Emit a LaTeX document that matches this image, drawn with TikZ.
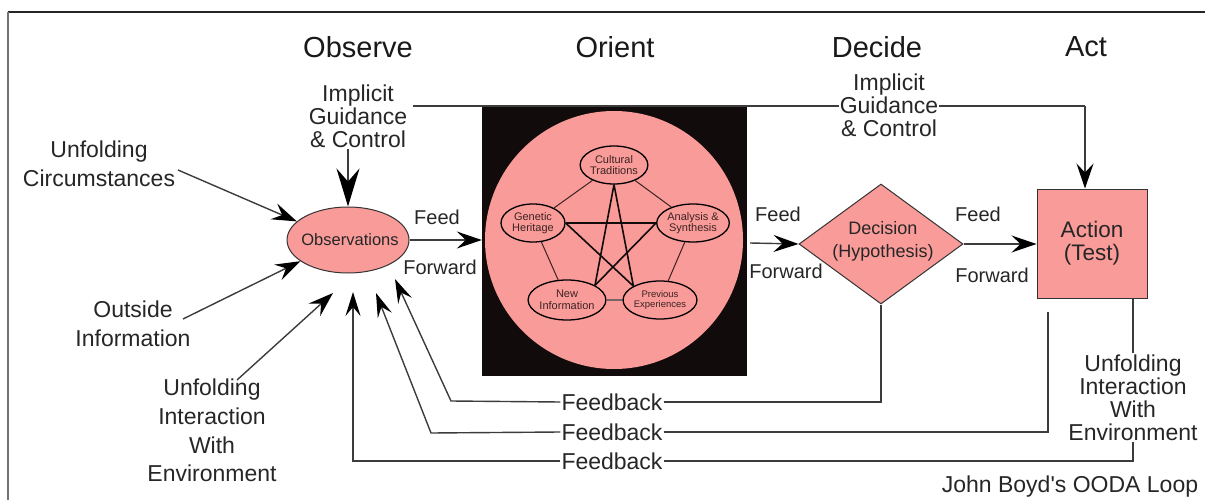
\documentclass[tikz,border=0pt]{standalone}
\usepackage{fontspec}
\setmainfont{Liberation Sans}
\newfontfamily\plainsans{Liberation Sans}
\usetikzlibrary{shapes.geometric,arrows.meta,calc}
\definecolor{salmon}{RGB}{249,155,152}
\definecolor{boxblack}{RGB}{18,11,11}
\definecolor{linegray}{RGB}{60,60,60}
\definecolor{innertext}{RGB}{60,35,35}
\begin{document}
\begin{tikzpicture}[x=1pt,y=-1pt,
  txt/.style={font=\fontsize{23}{23}\selectfont,align=center,inner sep=1pt,text=black!85},
  txtw/.style={txt,font=\fontsize{23}{28.8}\selectfont},
  head/.style={font=\fontsize{29}{29}\selectfont,inner sep=0pt,text=black!90},
  ff/.style={font=\fontsize{20}{20}\selectfont,inner sep=0pt,text=black!85},
  conn/.style={draw=linegray,line width=1.4pt},
  bigarrow/.style={conn,-{Stealth[length=25pt,width=17pt,inset=9pt,black]}},
  hugearrow/.style={conn,-{Stealth[length=38pt,width=23pt,inset=13pt,black]}},
  smallarrow/.style={conn,-{Stealth[length=24pt,width=15pt,inset=9pt,black]}},
  pinkfill/.style={fill=salmon,draw=black!80,line width=1pt},
  small/.style={ellipse,fill=salmon,draw=black,line width=1.3pt,minimum width=64pt,minimum height=38pt,inner sep=0pt,align=center,text=innertext,font=\fontsize{11}{11.5}\selectfont},
  pent/.style={draw=innertext,line width=1pt},
  star/.style={draw=boxblack,line width=1.6pt}
]
\useasboundingbox (0,0) rectangle (1205,500);
% frame
\draw[black!85,line width=1.6pt] (8,12) -- (1205,12);
\draw[black!55,line width=1.6pt] (8,12) -- (8,500);

% headings
\node[head] (hobs) at (358,47) {Observe};
\node[head] (hori) at (615,47) {Orient};
\node[head] (hdec) at (877,47) {Decide};
\node[head] (hact) at (1086,47) {Act};

% top guidance line (drawn first, behind)
\coordinate (igL) at (413,106);
\coordinate (igC) at (1085,106);

% Orient box
\node[fill=boxblack,minimum width=265pt,minimum height=271pt,inner sep=0pt] (orbox) at (614.5,240.5) {};
\draw[conn] (igL) -- (igC);
\node[circle,fill=salmon,minimum size=258pt,inner sep=0pt] (orc) at (614,240) {};

% inner ellipses
\node[small,minimum width=60pt] (ct) at (614,165) {Cultural\\Traditions};
\node[small] (gh) at (533,223) {Genetic\\Heritage};
\node[small] (as) at (693,223) {Analysis \&\\Synthesis};
\node[small,minimum height=40pt] (ni) at (567,300) {New\\Information};
\node[small,font=\fontsize{9.5}{10.5}\selectfont] (pe) at (660,300) {Previous\\Experiences};
% pentagon and star edges
\draw[pent] (ct) -- (gh);
\draw[pent] (ct) -- (as);
\draw[pent] (gh) -- (ni);
\draw[pent] (as) -- (pe);
\draw[pent,line width=1.6pt,draw=innertext!70] (ni) -- (pe);
\draw[star] (ct.south) -- (ni.north east);
\draw[star] (ct.south) -- (pe.north west);
\draw[star] (gh.east) -- (as.west);
\draw[star] (gh.east) -- (pe.north west);
\draw[star] (as.west) -- (ni.north east);

% Observations
\node[ellipse,pinkfill,minimum width=122pt,minimum height=66pt,inner sep=0pt] (obs) at (348,240) {};
\node[font=\fontsize{16.5}{16.5}\selectfont,text=black!85,inner sep=0pt] (obst) at (350,240) {Observations};

% Decision diamond
\node[diamond,pinkfill,minimum width=164pt,minimum height=120pt,inner sep=0pt] (dec) at (881,244) {};
\node[align=center,font=\fontsize{18}{23}\selectfont,inner sep=0pt,text=black!85] (dect) at (883,241.5) {Decision\\(Hypothesis)};

% Action box
\node[rectangle,pinkfill,minimum width=110pt,minimum height=109pt,inner sep=0pt,align=center,font=\fontsize{22.5}{23}\selectfont,text=black!85] (act) at (1092,243.5) {Action\\(Test)};

% Implicit guidance labels
\node[txt] (ig1) at (358,116) {Implicit\\Guidance\\\& Control};
\node[txt,fill=white] (ig2) at (889,105) {Implicit\\Guidance\\\& Control};
\draw[hugearrow] (ig1.south -| obs.north) -- (obs.north);
\draw[bigarrow] (igC) -- (igC |- act.north);

% forward arrows
\draw[bigarrow] (obs.east) -- (obs.east -| orbox.west);
\node[ff] (feed1) at (437,217) {Feed};
\node[ff] (fwd1) at (440,267) {Forward};
\coordinate (orR) at (750,243);
\draw[bigarrow] (orR) -- (dec.west);
\node[ff] (feed2) at (778,214) {Feed};
\node[ff] (fwd2) at (786,271) {Forward};
\draw[bigarrow] (dec.east) -- (dec.east -| act.west);
\node[ff] (feed3) at (978,214) {Feed};
\node[ff] (fwd3) at (992,275) {Forward};

% left inputs
\node[txtw] (uc) at (99,164) {Unfolding\\Circumstances};
\node[txtw] (oi) at (133,324) {Outside\\Information};
\node[txtw] (uie) at (212,430.5) {Unfolding\\Interaction\\With\\Environment};
\coordinate (ucS) at (178,170);
\coordinate (oiS) at (183,319);
\coordinate (uieS) at (237,380);
\coordinate (uieT) at (333,293);
\draw[bigarrow] (ucS) -- (obs.160);
\draw[bigarrow] (oiS) -- (obs.204);
\draw[bigarrow] (uieS) -- (uieT);

% feedback
\node[txt] (fb1) at (612,402) {Feedback};
\node[txt] (fb2) at (612,432) {Feedback};
\node[txt] (fb3) at (612,461) {Feedback};
\coordinate (fb1c) at (451,401);
\coordinate (fb1t) at (395,279);
\coordinate (fb2c) at (431,433);
\coordinate (fb2t) at (376,293);
\coordinate (fb3c) at (353,461);
\coordinate (fb3t) at (353,292);
\draw[smallarrow] (fb1.west) -- (fb1c) -- (fb1t);
\draw[smallarrow] (fb2.west) -- (fb2c) -- (fb2t);
\draw[smallarrow] (fb3.west) -- (fb3c) -- (fb3t);

% right side
\node[txt] (uie2) at (1133,397.5) {Unfolding\\Interaction\\With\\Environment};
\coordinate (fb2r) at (1048,312);
\draw[conn] (fb1.east) -| (dec.south);
\draw[conn] (fb2.east) -| (fb2r);
\draw[conn] (act.south -| uie2.north) -- (uie2.north);
\draw[conn] (uie2.south) |- (fb3.east);

% title
\node[txt,font=\plainsans\fontsize{23}{23}\selectfont] (title) at (1070,487) {John Boyd's OODA Loop};
\end{tikzpicture}
\end{document}
